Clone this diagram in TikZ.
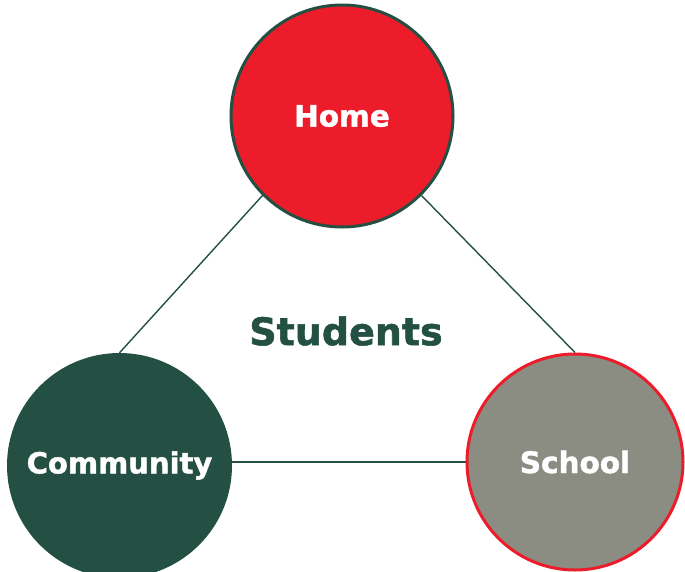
\documentclass[tikz,border=0pt]{standalone}
\usepackage{fontspec}
\setmainfont{DejaVu Sans}[BoldFeatures={FakeBold=1.5}]
\usepackage{xcolor}
\usetikzlibrary{positioning}
\definecolor{homered}{HTML}{ED1C2A}
\definecolor{darkgreen}{HTML}{235042}
\definecolor{schoolgray}{HTML}{8B8D83}

\begin{document}
\begin{tikzpicture}[x=1pt,y=-1pt,
  party/.style={circle,inner sep=0pt,text=white,font=\bfseries\fontsize{29.5}{30}\selectfont},
  link/.style={darkgreen,line width=1.4pt}]
  \useasboundingbox (0,0) rectangle (685,571);

  % The three circles
  \node[party,fill=homered,draw=darkgreen,line width=3pt,minimum size=222pt] (Home) at (342,116) {Home};
  \node[party,fill=darkgreen,minimum size=225pt,font=\bfseries\fontsize{29}{30}\selectfont] (Com) at (119.5,465.5) {Community};
  \node[party,fill=schoolgray,draw=homered,line width=3pt,minimum size=216pt] (School) at (575,462) {School};

  % Centre label
  \node[text=darkgreen,font=\bfseries\fontsize{38}{40}\selectfont] (Stud) at (346,331) {Students};

  % Connectors
  \draw[link] (Home.225) -- (Com.90);
  \draw[link] (Home.315) -- (School.90);
  \draw[link] (School.west -| Com.east) -- (School.west);
\end{tikzpicture}
\end{document}
